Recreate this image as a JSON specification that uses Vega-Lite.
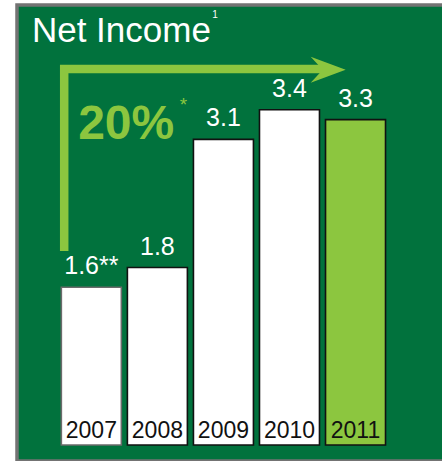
{
  "$schema": "https://vega.github.io/schema/vega-lite/v6.json",
  "autosize": {"type": "none"},
  "width": 427,
  "height": 456,
  "padding": {"left": 17, "top": 5, "right": 0, "bottom": 0},
  "background": "white",
  "view": {"fill": "#01723D", "stroke": "#737373", "strokeWidth": 3.5},
  "config": {"font": "Liberation Sans"},
  "datasets": {
    "bars": [
      {"year": 2007, "value": 1.6, "label": "1.6**"},
      {"year": 2008, "value": 1.8, "label": "1.8"},
      {"year": 2009, "value": 3.1, "label": "3.1"},
      {"year": 2010, "value": 3.4, "label": "3.4"},
      {"year": 2011, "value": 3.3, "label": "3.3"}
    ],
    "arrow": [
      {"ax": 2006.589, "ay": 1.968, "step": 1},
      {"ax": 2006.589, "ay": 3.813, "step": 2},
      {"ax": 2010.55, "ay": 3.813, "step": 3}
    ],
    "head": [
      {"ax": 2010.586, "ay": 3.806}
    ],
    "notes": [
      {"tx": 2006.1, "ty": 4.09, "text": "Net Income", "kind": "title"},
      {"tx": 2008.83, "ty": 4.328, "text": "1", "kind": "sup"},
      {"tx": 2006.8, "ty": 3.103, "text": "20%", "kind": "growth"},
      {"tx": 2008.395, "ty": 3.39, "text": "*", "kind": "star"}
    ]
  },
  "layer": [
    {
      "data": {"name": "arrow"},
      "mark": {"type": "line", "color": "#8CC63F", "strokeWidth": 8.5, "strokeCap": "butt", "strokeJoin": "miter"},
      "encoding": {
        "x": {"field": "ax", "type": "quantitative", "scale": {"domain": [2005.95, 2012.264], "nice": false, "zero": false}, "axis": null},
        "y": {"field": "ay", "type": "quantitative", "scale": {"domain": [-0.1623, 4.4625], "nice": false, "zero": false}, "axis": null},
        "order": {"field": "step"}
      }
    },
    {
      "data": {"name": "head"},
      "mark": {"type": "point", "shape": "M1,0L-1,-0.743L-0.31,0L-1,0.743Z", "size": 1225, "filled": true, "fill": "#8CC63F", "opacity": 1, "strokeWidth": 0},
      "encoding": {
        "x": {"field": "ax", "type": "quantitative"},
        "y": {"field": "ay", "type": "quantitative"}
      }
    },
    {
      "data": {"name": "bars"},
      "mark": {"type": "bar", "width": 60, "strokeWidth": 1.6},
      "encoding": {
        "x": {"field": "year", "type": "quantitative"},
        "y": {"field": "value", "type": "quantitative"},
        "fill": {"condition": {"test": "datum.year === 2011", "value": "#8CC63F"}, "value": "#ffffff"},
        "stroke": {"condition": {"test": "datum.year === 2007", "value": "#6b6b6b"}, "value": "#111111"}
      }
    },
    {
      "data": {"name": "bars"},
      "mark": {"type": "text", "align": "center", "baseline": "alphabetic", "dy": -13, "fontSize": 25, "color": "white"},
      "encoding": {
        "x": {"field": "year", "type": "quantitative"},
        "y": {"field": "value", "type": "quantitative"},
        "text": {"field": "label", "type": "nominal"}
      }
    },
    {
      "data": {"name": "bars"},
      "mark": {"type": "text", "align": "center", "baseline": "alphabetic", "dy": -7, "fontSize": 23, "color": "#111111"},
      "encoding": {
        "x": {"field": "year", "type": "quantitative"},
        "y": {"datum": 0, "type": "quantitative"},
        "text": {"field": "year", "type": "nominal"}
      }
    },
    {
      "data": {"name": "notes"},
      "transform": [{"filter": "datum.kind === 'title'"}],
      "mark": {"type": "text", "align": "left", "baseline": "alphabetic", "fontSize": 35, "color": "white"},
      "encoding": {
        "x": {"field": "tx", "type": "quantitative"},
        "y": {"field": "ty", "type": "quantitative"},
        "text": {"field": "text", "type": "nominal"}
      }
    },
    {
      "data": {"name": "notes"},
      "transform": [{"filter": "datum.kind === 'sup'"}],
      "mark": {"type": "text", "align": "left", "baseline": "alphabetic", "fontSize": 10, "color": "white"},
      "encoding": {
        "x": {"field": "tx", "type": "quantitative"},
        "y": {"field": "ty", "type": "quantitative"},
        "text": {"field": "text", "type": "nominal"}
      }
    },
    {
      "data": {"name": "notes"},
      "transform": [{"filter": "datum.kind === 'growth'"}],
      "mark": {"type": "text", "align": "left", "baseline": "alphabetic", "fontSize": 48, "fontWeight": "bold", "color": "#8CC63F"},
      "encoding": {
        "x": {"field": "tx", "type": "quantitative"},
        "y": {"field": "ty", "type": "quantitative"},
        "text": {"field": "text", "type": "nominal"}
      }
    },
    {
      "data": {"name": "notes"},
      "transform": [{"filter": "datum.kind === 'star'"}],
      "mark": {"type": "text", "align": "center", "baseline": "alphabetic", "fontSize": 19, "color": "#8CC63F"},
      "encoding": {
        "x": {"field": "tx", "type": "quantitative"},
        "y": {"field": "ty", "type": "quantitative"},
        "text": {"field": "text", "type": "nominal"}
      }
    }
  ]
}
